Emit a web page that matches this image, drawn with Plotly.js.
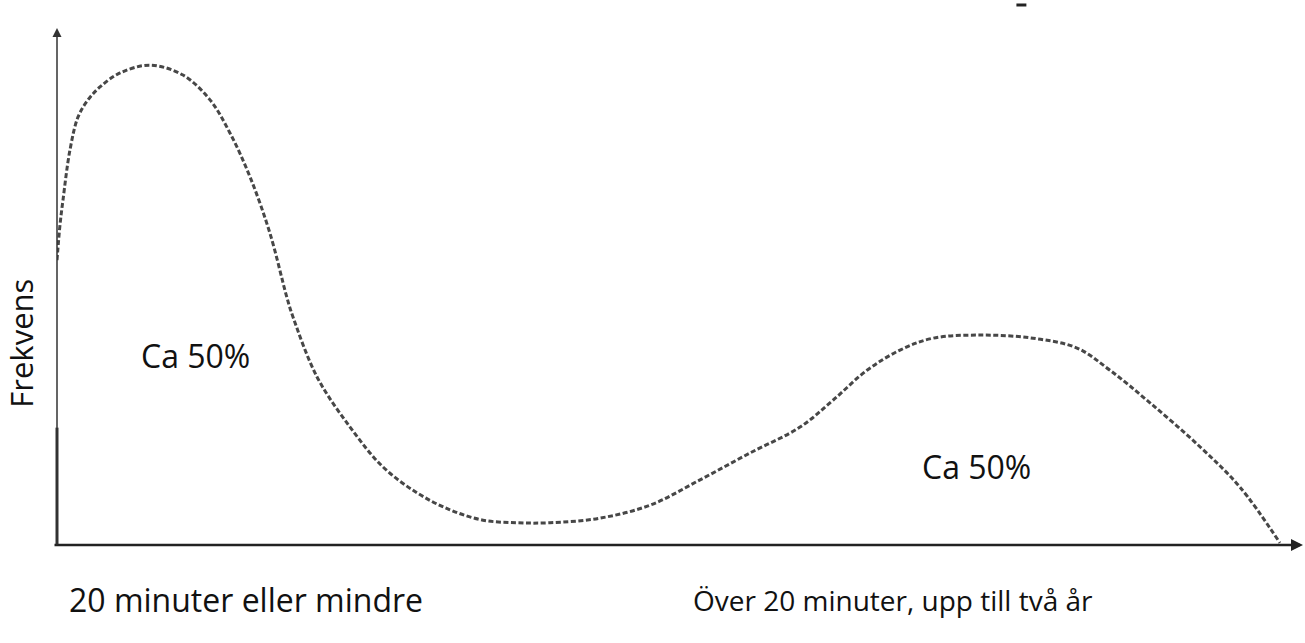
<!DOCTYPE html>
<html>
<head>
<meta charset="utf-8">
<script src="https://cdn.plot.ly/plotly-3.0.1.min.js"></script>
<style>html,body{margin:0;padding:0;background:#fff;}#chart{width:1305px;height:643px;}</style>
</head>
<body>
<div id="chart"></div>
<script>
// Time (arbitrary scale, 0-100) and frequency (relative, 0-100)
const time = [0, 0.24, 0.48, 1.04, 1.69, 2.49, 3.45, 5.06, 7.46, 10.11, 12.28, 13.88, 15.49, 17.09, 18.46, 18.94, 20.87, 23.52, 26.16, 28.89, 31.54, 34.19, 36.92, 39.57, 43.58, 47.59, 51.61, 55.62, 59.63, 62.28, 65.01, 67.66, 70.30, 74.32, 78.33, 81.86, 84.51, 87.72, 91.73, 94.94, 98.15];
const frequency = [55.1, 61.9, 66.7, 76.4, 82.8, 86.1, 88.6, 91.3, 92.8, 90.9, 86.1, 79.7, 71.2, 60.3, 47.8, 44.1, 32.5, 22.8, 15.1, 10.1, 6.8, 4.8, 4.3, 4.3, 5.2, 7.7, 12.6, 17.8, 22.8, 28.0, 33.8, 37.7, 40.0, 40.6, 40.0, 38.1, 33.8, 27.5, 19.0, 11.2, 0.4];

const groupLabels = ["20 minuter eller mindre", "Över 20 minuter, upp till två år"];
const shareLabels = ["Ca 50%", "Ca 50%"];
const shareX = [11.1, 73.8];
const shareY = [36.6, 15.1];
const axisTitle = "Frekvens";

const font = "'Open Sans', 'Noto Sans', sans-serif";

const trace = {
  x: time, y: frequency, type: 'scatter', mode: 'lines',
  line: {color: '#474747', width: 3, dash: '5px,2.5px', shape: 'spline', smoothing: 1},
  hoverinfo: 'skip', showlegend: false
};

const annotations = [
  // x-axis arrow
  {xref: 'paper', yref: 'paper', x: 1.0, y: 0, ax: -1250, ay: 0, axref: 'pixel', ayref: 'pixel',
   showarrow: true, arrowhead: 2, arrowsize: 1, arrowwidth: 2.4, arrowcolor: '#222', text: ''},
  // y-axis arrow
  {xref: 'paper', yref: 'paper', x: 0, y: 1.0, ax: 0, ay: 518, axref: 'pixel', ayref: 'pixel',
   showarrow: true, arrowhead: 2, arrowsize: 1.2, arrowwidth: 1.5, arrowcolor: '#333', text: ''},
  {xref: 'paper', yref: 'paper', x: -0.029, y: 0.391, xanchor: 'center', yanchor: 'middle',
   text: axisTitle, textangle: -90, showarrow: false,
   font: {family: font, size: 31, color: '#111'}},
  {xref: 'paper', yref: 'paper', x: 0.152, y: -0.106, xanchor: 'center', yanchor: 'middle',
   text: groupLabels[0], showarrow: false,
   font: {family: font, size: 32, color: '#111'}},
  {xref: 'paper', yref: 'paper', x: 0.6706, y: -0.106, xanchor: 'center', yanchor: 'middle',
   text: groupLabels[1], showarrow: false,
   font: {family: font, size: 28, color: '#111'}}
];
for (let i = 0; i < shareLabels.length; i++) {
  annotations.push({x: shareX[i], y: shareY[i], xref: 'x', yref: 'y', xanchor: 'center', yanchor: 'middle',
    text: shareLabels[i], showarrow: false,
    font: {family: font, size: 32, color: '#111'}});
}

const layout = {
  width: 1305, height: 643,
  margin: {l: 57, r: 2, t: 28, b: 98, pad: 0},
  paper_bgcolor: '#fff', plot_bgcolor: '#fff',
  xaxis: {range: [0, 100], showgrid: false, zeroline: false, showticklabels: false, ticks: '', showline: false},
  yaxis: {range: [0, 100], showgrid: false, zeroline: false, showticklabels: false, ticks: '', showline: false},
  shapes: [
    {type: 'line', xref: 'paper', yref: 'paper', x0: 0, x1: 0, y0: 0, y1: 0.227,
     line: {color: '#333', width: 3}},
    {type: 'line', xref: 'paper', yref: 'paper', x0: 0.770, x1: 0.778, y0: 1.0445, y1: 1.0445,
     line: {color: '#222', width: 3}}
  ],
  annotations: annotations
};

Plotly.newPlot('chart', [trace], layout, {displayModeBar: false, staticPlot: true});
</script>
</body>
</html>
